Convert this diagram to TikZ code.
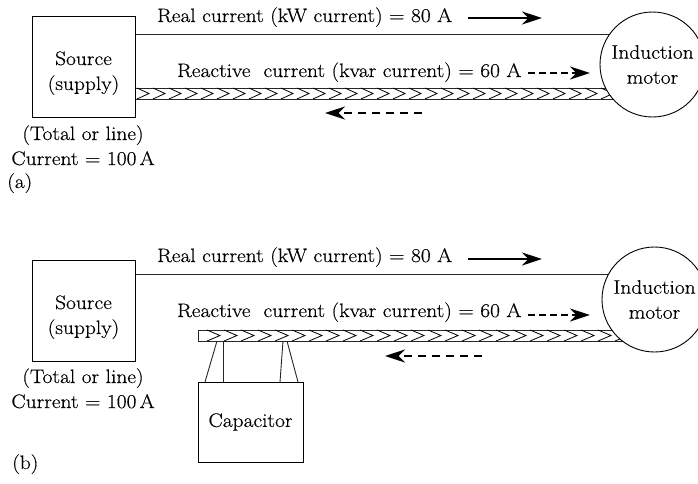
\documentclass[tikz,border=0pt]{standalone}
\usepackage{fontspec}
\setmainfont{Latin Modern Roman}[FakeStretch=1.1,FakeBold=0.4]
\usetikzlibrary{arrows.meta,backgrounds}
\begin{document}
\begin{tikzpicture}[x=1pt,y=-1pt,
  font=\fontsize{19.5}{25}\selectfont,
  box/.style={draw, line width=0.9pt, minimum width=103pt, minimum height=101pt, inner sep=0pt},
  capbox/.style={draw, line width=0.9pt, minimum width=105pt, minimum height=80pt, inner sep=0pt, align=center},
  motorc/.style={draw, circle, line width=0.9pt, fill=white, minimum size=105pt, inner sep=0pt, align=center},
  wire/.style={line width=0.9pt, black!85},
  chev/.style={line width=0.8pt},
  flowreal/.style={line width=2.4pt, -{Stealth[length=20pt,width=13pt]}},
  flowdash/.style={line width=2.4pt, dash pattern=on 7pt off 4pt, -{Stealth[length=20pt,width=13pt]}},
  flowback/.style={line width=2.4pt, dash pattern=on 8pt off 6pt, -{Stealth[length=20pt,width=13pt]}},
  lbl/.style={anchor=base west, inner sep=0pt},
  ctrlbl/.style={anchor=base, inner sep=0pt}]
\useasboundingbox (0,0) rectangle (698,483);

% ---------------- panel (a)
\node[box] (srcA) at (83.5,66.5) {};
\node[ctrlbl] (srcAt1) at (srcA.center |- 0,65) {Source};
\node[ctrlbl] (srcAt2) at (srcA.center |- 0,90) {(supply)};
\node[motorc] (motA) at (652.5,64.5) {Induction\\motor};
\coordinate (rlA) at (0,34);
\coordinate (btA) at (0,88);
\coordinate (bbA) at (0,99);
\begin{scope}[on background layer]
  \draw[wire] (srcA.east |- rlA) -- (motA.center |- rlA);
  \draw[wire] (srcA.east |- btA) -- (motA.center |- btA);
  \draw[wire] (srcA.east |- bbA) -- (motA.center |- bbA);
  \foreach \x in {137,153,...,620}
    \draw[chev] (\x,88) -- (\x+12,93.5) -- (\x,99);
\end{scope}
\node[lbl] (realA) at (157,22) {Real current (kW current) = 80 A};
\node[lbl] (reacA) at (177,77) {Reactive\ \ current (kvar current) = 60 A};
\coordinate (raS) at (468,18);  \coordinate (raE) at (542,18);
\coordinate (daS) at (528,73);  \coordinate (daE) at (590,73);
\coordinate (baS) at (422,113); \coordinate (baE) at (325,113);
\draw[flowreal] (raS) -- (raE);
\draw[flowdash] (daS) -- (daE);
\draw[flowback] (baS) -- (baE);
\node[ctrlbl] (totA) at (83,140) {(Total or line)};
\node[ctrlbl] (curA) at (83,165) {Current = 100\,A};
\node[lbl] (tagA) at (7,188) {(a)};

% ---------------- panel (b)
\node[box] (srcB) at (83.5,310.5) {};
\node[ctrlbl] (srcBt1) at (srcB.center |- 0,309) {Source};
\node[ctrlbl] (srcBt2) at (srcB.center |- 0,334) {(supply)};
\node[motorc] (motB) at (654.5,299.5) {Induction\\motor};
\node[capbox] (capB) at (250.5,422) {Capacitor};
\coordinate (rlB) at (0,274);
\coordinate (btB) at (198,330);
\coordinate (bbB) at (198,341);
\begin{scope}[on background layer]
  \draw[wire] (srcB.east |- rlB) -- (motB.center |- rlB);
  \draw[wire] (btB) -- (motB.center |- btB);
  \draw[wire] (bbB) -- (motB.center |- bbB);
  \draw[wire] (btB) -- (bbB);
  \foreach \x in {207,224,...,630}
    \draw[chev] (\x,330) -- (\x+13,335.5) -- (\x,341);
\end{scope}
\coordinate (l1) at (205,382); \coordinate (l2) at (223,382);
\coordinate (l3) at (280,382); \coordinate (l4) at (298,382);
\draw[wire] (217,341) -- (l1);
\draw[wire] (223,341) -- (l2);
\draw[wire] (283,341) -- (l3);
\draw[wire] (287,341) -- (l4);
\node[lbl] (realB) at (157,262) {Real current (kW current) = 80 A};
\node[lbl] (reacB) at (177,317) {Reactive\ \ current (kvar current) = 60 A};
\coordinate (rbS) at (468,259); \coordinate (rbE) at (542,259);
\coordinate (dbS) at (528,315); \coordinate (dbE) at (590,315);
\coordinate (bbS) at (482,356); \coordinate (bbE) at (385,356);
\draw[flowreal] (rbS) -- (rbE);
\draw[flowdash] (dbS) -- (dbE);
\draw[flowback] (bbS) -- (bbE);
\node[ctrlbl] (totB) at (83,383) {(Total or line)};
\node[ctrlbl] (curB) at (83,408) {Current = 100\,A};
\node[lbl] (tagB) at (12,469) {(b)};
\end{tikzpicture}
\end{document}
